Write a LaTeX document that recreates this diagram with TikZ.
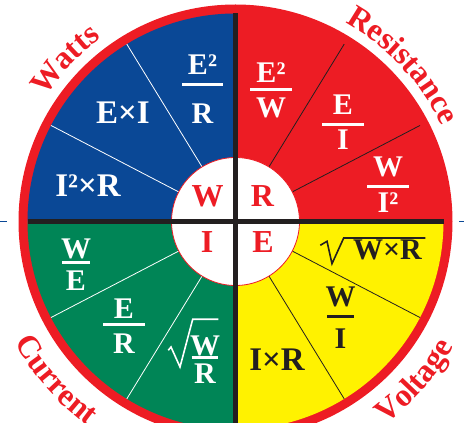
\documentclass[tikz,border=0pt]{standalone}
\usepackage{fontspec}
\setmainfont{Liberation Serif}
\usetikzlibrary{decorations.text}
\definecolor{wblue}{RGB}{10,72,150}
\definecolor{wred}{RGB}{237,28,36}
\definecolor{wgreen}{RGB}{0,133,86}
\definecolor{wyellow}{RGB}{255,242,0}
\definecolor{wblack}{RGB}{35,31,32}
\newcommand\labfont{\fontsize{32}{32}\selectfont\bfseries\color{wred}}
\begin{document}
\begin{tikzpicture}[x=1pt,y=1pt,
  fnum/.style={font=\fontsize{30}{30}\selectfont\bfseries, inner sep=0pt, anchor=base},
  fbig/.style={font=\fontsize{33}{33}\selectfont\bfseries, inner sep=0pt, anchor=base},
  cen/.style={font=\fontsize{32}{32}\selectfont\bfseries, text=wred, inner sep=0pt, anchor=base},
  fbar/.style={line width=3pt},
  rad/.style={line width=1.6pt, line join=miter},
  divw/.style={white, line width=0.8pt},
  divb/.style={wblack, line width=0.8pt},
  cross/.style={wblack, line width=5pt},
  lab/.style={decorate, decoration={text along path, text align=center}}]
\useasboundingbox (0,0) rectangle (464,423);
\clip (0,0) rectangle (464,423);
\coordinate (C) at (235.5,201.5);
% discs
\fill[wred] (C) circle[radius=217];
\fill[wblue] (C) -- ++(90:208) arc[start angle=90, end angle=180, radius=208] -- cycle;
\fill[wred] (C) -- ++(0:208) arc[start angle=0, end angle=90, radius=208] -- cycle;
\fill[wgreen] (C) -- ++(180:208) arc[start angle=180, end angle=270, radius=208] -- cycle;
\fill[wyellow] (C) -- ++(270:208) arc[start angle=270, end angle=360, radius=208] -- cycle;
% dividers
\foreach \a in {121.5,152.5,207.5,238.5}
  \draw[divw] ([shift={(\a:64)}]C) -- ([shift={(\a:208)}]C);
\foreach \a in {27.5,58.5,301.5,332.5}
  \draw[divb] ([shift={(\a:64)}]C) -- ([shift={(\a:208)}]C);
% centre
\draw[wred, line width=0.8pt, fill=white] (C) circle[radius=64];
\draw[cross] ([shift={(180:208)}]C) -- ([shift={(0:208)}]C);
\draw[cross] ([shift={(90:208)}]C) -- ([shift={(270:220)}]C);
\node[cen] (cW) at (207.5,216) {W};
\node[cen] (cR) at (262.5,216) {R};
\node[cen] (cI) at (207,170) {I};
\node[cen] (cE) at (263,170) {E};
% quadrant labels
\path[lab, decoration={text={|\labfont|Watts}}] ([shift={(170:227)}]C) arc[start angle=170, end angle=103, radius=227];
\path[lab, decoration={text={|\labfont|Resistance}}] ([shift={(83:227)}]C) arc[start angle=83, end angle=3, radius=227];
\path[lab, decoration={text={|\labfont|Current}}] ([shift={(188.5:252)}]C) arc[start angle=188.5, end angle=254.5, radius=252];
\path[lab, decoration={text={|\labfont|Voltage}}] ([shift={(-75:252)}]C) arc[start angle=-75, end angle=-8.4, radius=252];
% blue quadrant (Watts)
\node[fnum, text=white] (b1n) at (202.5,348) {E²};
\node[fnum, text=white] (b1d) at (202.5,299.7) {R};
\draw[fbar, white] (182,338.6) -- (223,338.6);
\node[fbig, text=white] (b2) at (123,299) {E×I};
\node[fbig, text=white] (b3) at (88,226) {I²×R};
% red quadrant (Resistance)
\node[fnum, text=white] (r1n) at (271,340) {E²};
\node[fnum, text=white] (r1d) at (271,305) {W};
\draw[fbar, white] (250,333) -- (292,333);
\node[fnum, text=white] (r2n) at (343,308) {E};
\node[fnum, text=white] (r2d) at (343,273) {I};
\draw[fbar, white] (322,298) -- (364,298);
\node[fnum, text=white] (r3n) at (388,246.3) {W};
\node[fnum, text=white] (r3d) at (388,210) {I²};
\draw[fbar, white] (367,236.3) -- (409,236.3);
% green quadrant (Current)
\node[fnum, text=white] (g1n) at (76,164.3) {W};
\node[fnum, text=white] (g1d) at (76,132.7) {E};
\draw[fbar, white] (62,160.7) -- (90,160.7);
\node[fnum, text=white] (g2n) at (124,104.3) {E};
\node[fnum, text=white] (g2d) at (124,69.3) {R};
\draw[fbar, white] (103,98.7) -- (145,98.7);
\node[fnum, text=white] (g3n) at (205,67.7) {W};
\node[fnum, text=white] (g3d) at (205,39.3) {R};
\draw[fbar, white] (191.7,65.7) -- (218.3,65.7);
\draw[rad, white] (168.3,72.7) -- (171,76) -- (180,56) -- (192.7,103.7) -- (218.3,103.7);
% yellow quadrant (Voltage)
\node[fnum, text=wblack] (y1) at (387.5,163) {W×R};
\draw[rad, wblack] (320.3,177.7) -- (327,181.7) -- (332,159.3) -- (343.7,185) -- (425.3,185);
\node[fnum, text=wblack] (y2n) at (340.5,116) {W};
\node[fnum, text=wblack] (y2d) at (340.5,74.3) {I};
\draw[fbar, wblack] (327,106) -- (354,106);
\node[fbig, text=wblack] (y3) at (277,52) {I×R};
% edge ticks
\draw[wblue, line width=0.8pt] (0,201.5) -- (7,201.5);
\draw[wblue, line width=0.8pt] (459,201.5) -- (464,201.5);
\end{tikzpicture}
\end{document}
